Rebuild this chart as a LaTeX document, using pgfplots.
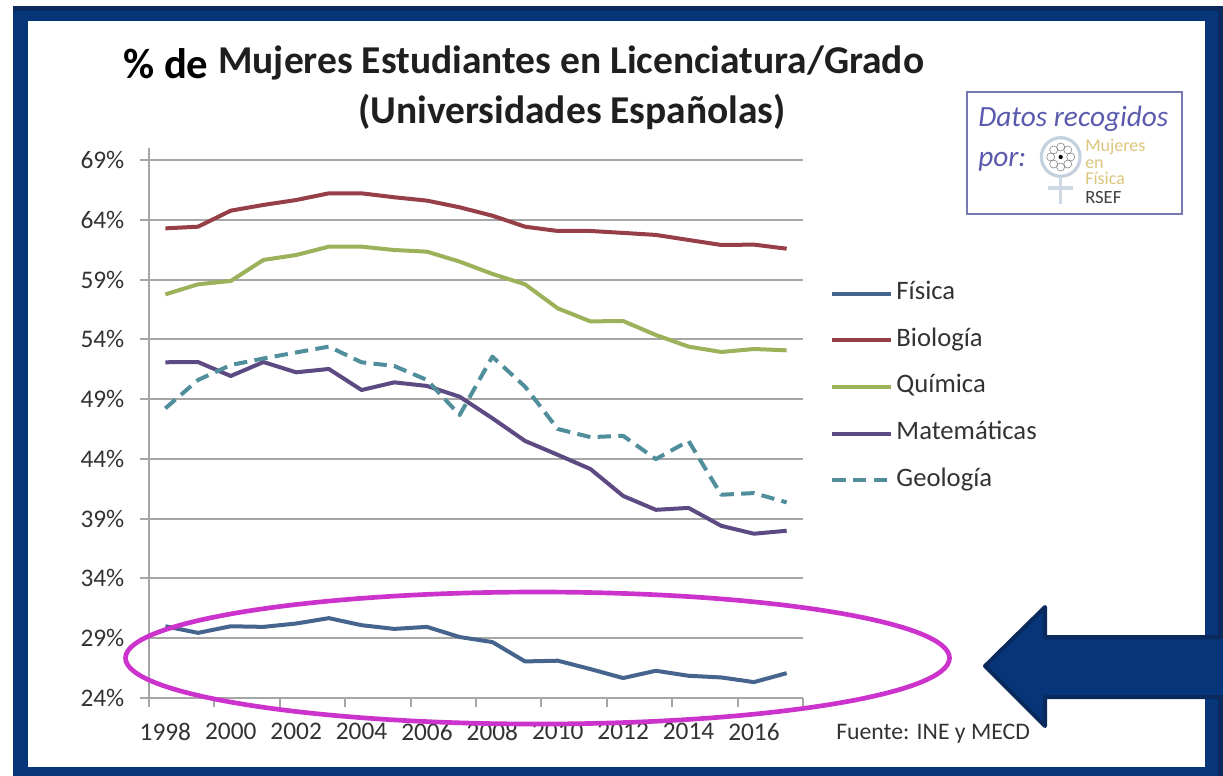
\documentclass[border=0pt]{standalone}
\usepackage{fontspec}
\setmainfont{Carlito}
\usepackage{pgfplots}
\pgfplotsset{compat=1.18}
\definecolor{frameblue}{HTML}{06357A}
\definecolor{framedark}{HTML}{0A2A5E}
\definecolor{fis}{HTML}{46658E}
\definecolor{bio}{HTML}{963F48}
\definecolor{qui}{HTML}{9BB25A}
\definecolor{mat}{HTML}{5E4A82}
\definecolor{geo}{HTML}{4F8E9A}
\definecolor{gridc}{HTML}{A6A6A6}
\definecolor{txt}{HTML}{333333}
\definecolor{magen}{HTML}{CC33CC}
\definecolor{boxc}{HTML}{7878B0}
\definecolor{datac}{HTML}{5A5AAE}
\definecolor{goldc}{HTML}{DCC67C}
\definecolor{ringc}{HTML}{C5D2DE}
\begin{document}
\begin{tikzpicture}[x=0.75pt,y=-0.75pt]
\useasboundingbox (0,0) rectangle (1223,775);
\fill[white] (0,0) rectangle (1223,775);
% frame
\fill[framedark] (13,6) rectangle (1230,790);
\fill[frameblue] (13,11) rectangle (1218,790);
\fill[white] (28,21) rectangle (1205,767);
% title
\node[anchor=base west,inner sep=0,font=\fontsize{32}{36}\selectfont\bfseries,text=black] at (123,78) {\%\ de};
\node[anchor=base west,inner sep=0,font=\fontsize{29.6}{34}\selectfont\bfseries,text=black!88] at (218,73) {Mujeres Estudiantes en Licenciatura/Grado};
\node[anchor=base,inner sep=0,font=\fontsize{29.6}{34}\selectfont\bfseries,text=black!88] at (572,123) {(Universidades Españolas)};
\begin{axis}[
  at={(111.75pt,-523.5pt)},anchor=origin,
  scale only axis,width=490.5pt,height=412.5pt,
  xmin=1997.5,xmax=2017.5,ymin=24,ymax=70,
  axis x line*=bottom,axis y line*=left,
  axis line style={draw=gridc,line width=1.5pt,-},
  xtick={1998,2000,2002,2004,2006,2008,2010,2012,2014,2016},
  xticklabels={1998,2000,2002,2004,2006,2008,2010,2012,2014,2016},
  minor xtick={1997.5,1999.5,2001.5,2003.5,2005.5,2007.5,2009.5,2011.5,2013.5,2015.5,2017.5},
  ytick={24,29,34,39,44,49,54,59,64,69},
  yticklabels={24\%,29\%,34\%,39\%,44\%,49\%,54\%,59\%,64\%,69\%},
  tick align=outside,
  major tick length=6.5pt,minor tick length=6.5pt,
  every major x tick/.append style={draw=none},
  tick style={draw=gridc,line width=1.5pt},
  ymajorgrids,
  grid style={draw=gridc,line width=1.5pt},
  tick label style={font=\fontsize{19}{22}\selectfont,text=txt},
  yticklabel style={xshift=-8.5pt},
  xticklabel style={yshift=-9pt},
  legend cell align=left,
  legend style={draw=none,fill=none,at={(1.0416,0.7565)},anchor=north west,
    font=\fontsize{20}{22}\selectfont,text=txt,
    nodes={inner sep=0pt,text height=13pt,text depth=4pt},
    row sep=18pt,inner sep=0pt,
    /tikz/every odd column/.append style={column sep=2.5pt}},
  legend image code/.code={\draw[#1] (0pt,0pt) -- (44pt,0pt);},
  every axis plot/.append style={line width=3pt,line join=round},
]
\addplot[fis] coordinates {(1998,30.0)(1999,29.45)(2000,30.0)(2001,29.95)(2002,30.23)(2003,30.68)(2004,30.09)(2005,29.78)(2006,29.95)(2007,29.1)(2008,28.68)(2009,27.06)(2010,27.12)(2011,26.42)(2012,25.67)(2013,26.28)(2014,25.86)(2015,25.72)(2016,25.33)(2017,26.08)};
\addlegendentry{Física}
\addplot[bio] coordinates {(1998,63.28)(1999,63.42)(2000,64.76)(2001,65.24)(2002,65.65)(2003,66.21)(2004,66.21)(2005,65.88)(2006,65.6)(2007,65.04)(2008,64.34)(2009,63.42)(2010,63.06)(2011,63.06)(2012,62.9)(2013,62.73)(2014,62.31)(2015,61.89)(2016,61.92)(2017,61.58)};
\addlegendentry{Biología}
\addplot[qui] coordinates {(1998,57.76)(1999,58.6)(2000,58.88)(2001,60.64)(2002,61.05)(2003,61.75)(2004,61.75)(2005,61.47)(2006,61.33)(2007,60.5)(2008,59.47)(2009,58.6)(2010,56.59)(2011,55.5)(2012,55.53)(2013,54.36)(2014,53.39)(2015,52.94)(2016,53.19)(2017,53.08)};
\addlegendentry{Química}
\addplot[mat] coordinates {(1998,52.08)(1999,52.1)(2000,50.93)(2001,52.1)(2002,51.24)(2003,51.52)(2004,49.76)(2005,50.4)(2006,50.1)(2007,49.2)(2008,47.4)(2009,45.5)(2010,44.34)(2011,43.15)(2012,40.9)(2013,39.74)(2014,39.9)(2015,38.4)(2016,37.74)(2017,37.99)};
\addlegendentry{Matemáticas}
\addplot[geo,dash pattern=on 10pt off 5.5pt] coordinates {(1998,48.23)(1999,50.6)(2000,51.85)(2001,52.4)(2002,52.9)(2003,53.39)(2004,52.08)(2005,51.77)(2006,50.6)(2007,47.67)(2008,52.55)(2009,50.04)(2010,46.5)(2011,45.82)(2012,45.93)(2013,43.98)(2014,45.5)(2015,41.0)(2016,41.14)(2017,40.36)};
\addlegendentry{Geología}
\end{axis}
% annotation ellipse
\draw[magen,line width=3.5pt] (537.5,658) ellipse [x radius=309pt,y radius=49.5pt];
% arrow
\fill[frameblue,draw=framedark,line width=3pt,line join=round] (1240,637) -- (1045,637) -- (1045,607) -- (985,666) -- (1045,726) -- (1045,697) -- (1240,697) -- cycle;
% source
\node[anchor=base west,inner sep=0,font=\fontsize{17.8}{20}\selectfont,text=txt] at (836,739) {Fuente: INE y MECD};
% data box
\draw[boxc,line width=1.5pt,fill=white] (967,92) rectangle (1182,214);
\node[anchor=base west,inner sep=0,font=\fontsize{22}{24}\selectfont\itshape,text=datac] at (978,126) {Datos recogidos};
\node[anchor=base west,inner sep=0,font=\fontsize{22}{24}\selectfont\itshape,text=datac] at (978,166) {por:};
% logo
\draw[ringc,line width=2.4pt] (1060.7,157) circle [radius=14.5pt];
\draw[ringc!85!white,line width=2.4pt] (1060.7,178) -- (1060.7,204);
\draw[ringc!85!white,line width=2.4pt] (1048,188) -- (1073,188);
\foreach \a in {0,45,...,315}{\draw[black!50,line width=0.4pt] (1060.7,157) ++(\a:7.5pt) circle [radius=3pt];}
\fill[black] (1060.7,157) circle [radius=1.6pt];
\node[anchor=base west,inner sep=0,font=\fontsize{13.5}{15}\selectfont,text=goldc] at (1085,151) {Mujeres};
\node[anchor=base west,inner sep=0,font=\fontsize{13.5}{15}\selectfont,text=goldc] at (1085,168) {en};
\node[anchor=base west,inner sep=0,font=\fontsize{13.5}{15}\selectfont,text=goldc] at (1085,184) {Física};
\node[anchor=base west,inner sep=0,font=\fontsize{14}{15}\selectfont,text=black!75] at (1085,203) {RSEF};
\end{tikzpicture}
\end{document}
